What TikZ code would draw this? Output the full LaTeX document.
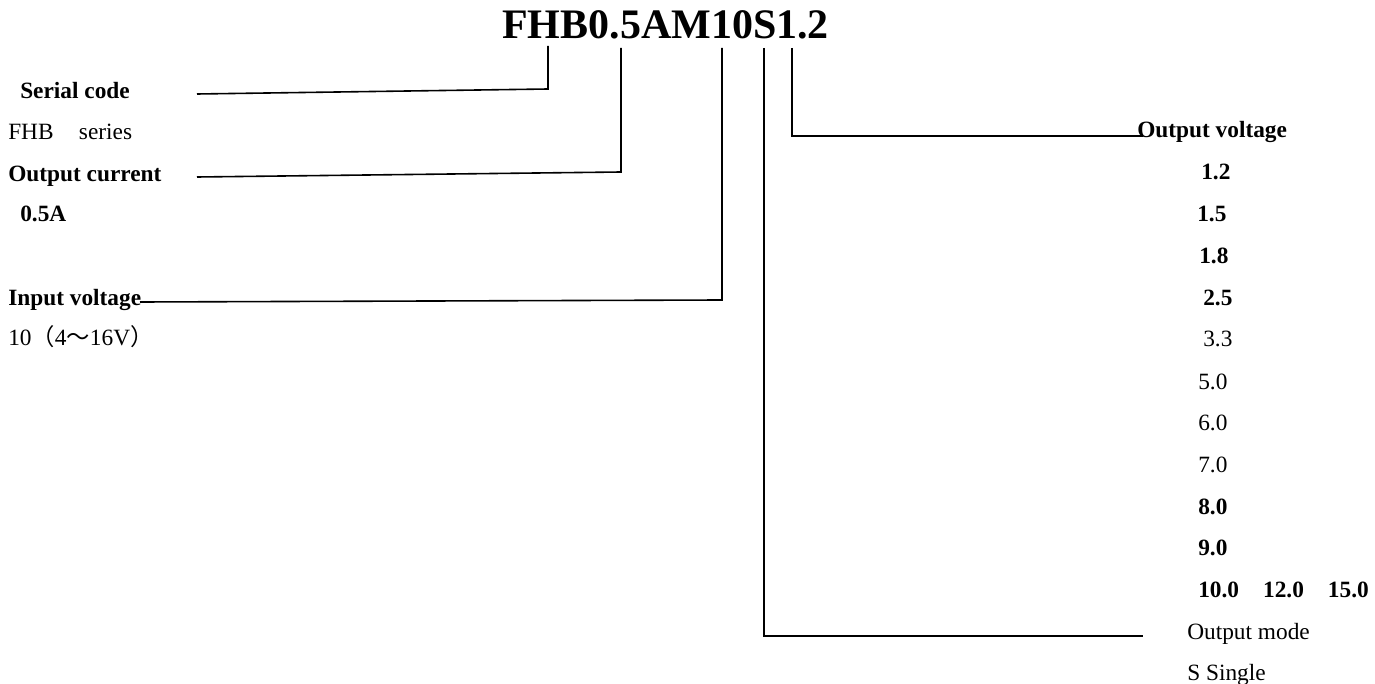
\documentclass[tikz,border=0pt]{standalone}
\usepackage{fontspec}
\setmainfont{Liberation Serif}
\newfontfamily\cjk{Noto Sans CJK SC}
\begin{document}
\begin{tikzpicture}[x=0.75pt,y=-0.75pt,
  lbl/.style={anchor=base west,inner sep=0pt,font=\fontsize{17.5}{21}\selectfont},
  blbl/.style={anchor=base west,inner sep=0pt,font=\fontsize{17.5}{21}\selectfont\bfseries},
  conn/.style={line width=1.2pt,line join=miter}]
\useasboundingbox (0,0) rectangle (1375,684);
% title
\node[anchor=base west,inner sep=0pt,font=\fontsize{31.5}{36}\selectfont\bfseries] (title) at (502,39) {FHB0.5AM10S1.2};
% tap points under the title
\coordinate (ts) at (548,46);
\coordinate (tc) at (621,48);
\coordinate (ti) at (722,48);
\coordinate (tm) at (764,48);
\coordinate (tv) at (792,48);
% left labels
\node[blbl] (serial) at (20,99) {Serial code};
\node[lbl] (series) at (8,140) {FHB\hspace{19pt}series};
\node[blbl] (curr) at (8,182) {Output current};
\node[blbl] (curv) at (20,222) {0.5A};
\node[blbl] (inv) at (8,306) {Input voltage};
\node[lbl] (invv) at (8,345) {10{\cjk （}4{\cjk ～}16V{\cjk ）}};
% right labels
\node[blbl] (outv) at (1137,138) {Output voltage};
\node[blbl] (v1) at (1201,180) {1.2};
\node[blbl] (v2) at (1197,222) {1.5};
\node[blbl] (v3) at (1199,264) {1.8};
\node[blbl] (v4) at (1203,306) {2.5};
\node[lbl] (v5) at (1203,347) {3.3};
\node[lbl] (v6) at (1198,389) {5.0};
\node[lbl] (v7) at (1198,430) {6.0};
\node[lbl] (v8) at (1198,472) {7.0};
\node[blbl] (v9) at (1198,514) {8.0};
\node[blbl] (v10) at (1198,555) {9.0};
\node[blbl] (v11) at (1198,597) {10.0\hspace{18pt}12.0\hspace{18pt}15.0};
\node[lbl] (outm) at (1187,639) {Output mode};
\node[lbl] (single) at (1187,680) {S Single};
% connector corners
\coordinate (s1) at (548,89);
\coordinate (s2) at (197,94);
\coordinate (c1) at (621,172);
\coordinate (c2) at (197,177);
\coordinate (i1) at (722,300);
\coordinate (i2) at (140,302);
\coordinate (m1) at (764,636);
\coordinate (m2) at (1143,636);
\coordinate (o1) at (792,136);
\coordinate (o2) at (1143,136);
% connectors
\draw[conn] (ts) -- (s1) -- (s2);
\draw[conn] (tc) -- (c1) -- (c2);
\draw[conn] (ti) -- (i1) -- (i2);
\draw[conn] (tm) -- (m1) -- (m2);
\draw[conn] (tv) -- (o1) -- (o2);
\end{tikzpicture}
\end{document}
